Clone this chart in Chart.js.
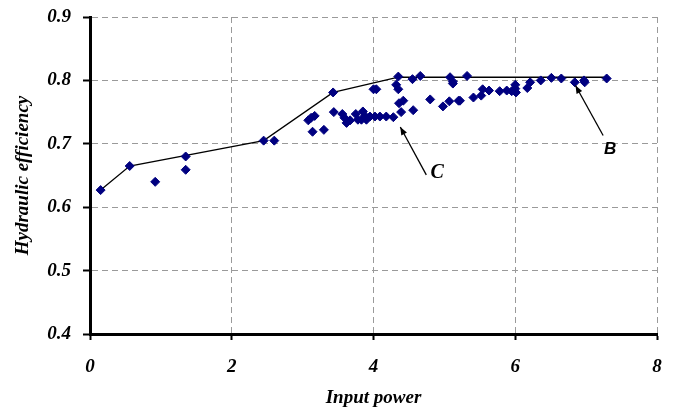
<!DOCTYPE html>
<html>
<head>
<meta charset="utf-8">
<script src="https://cdn.jsdelivr.net/npm/chart.js@4.4.1/dist/chart.umd.min.js"></script>
<style>
  body { margin: 0; background: #fff; }
  #wrap { width: 676px; height: 409px; position: relative; }
</style>
</head>
<body>
<div id="wrap"><canvas id="chart"></canvas></div>
<script>
// measured points (input power, hydraulic efficiency)
const powerPts = [0.15, 0.56, 0.92, 1.35, 1.35, 2.45, 2.60, 3.08, 3.12, 3.17, 3.14, 3.30, 3.43, 3.44, 3.56, 3.59, 3.62, 3.67,
  3.75, 3.78, 3.83, 3.85, 3.88, 3.90, 3.95, 4.00, 4.04, 4.02, 4.09, 4.18, 4.28, 4.32, 4.35, 4.35, 4.36, 4.42, 4.39, 4.56,
  4.55, 4.66, 4.80, 4.98, 5.07, 5.08, 5.12, 5.12, 5.20, 5.22, 5.32, 5.41, 5.52, 5.54, 5.63, 5.78, 5.88, 5.95, 6.00, 6.00,
  6.01, 6.17, 6.21, 6.36, 6.51, 6.65, 6.84, 6.97, 6.98, 7.29];
const effPts = [0.627, 0.665, 0.640, 0.680, 0.659, 0.705, 0.705, 0.737, 0.741, 0.744, 0.719, 0.722, 0.781, 0.750, 0.747, 0.741, 0.733, 0.737,
  0.747, 0.738, 0.738, 0.751, 0.744, 0.738, 0.743, 0.786, 0.786, 0.743, 0.743, 0.743, 0.742, 0.793, 0.786, 0.806, 0.764, 0.768, 0.750, 0.753,
  0.802, 0.807, 0.770, 0.759, 0.767, 0.805, 0.798, 0.795, 0.768, 0.768, 0.807, 0.773, 0.776, 0.786, 0.784, 0.783, 0.784, 0.783, 0.793, 0.787,
  0.781, 0.788, 0.797, 0.800, 0.804, 0.803, 0.797, 0.800, 0.797, 0.803];

// envelope curve B
const envPower = [0.15, 0.56, 2.45, 3.43, 4.35, 7.29];
const envEff = [0.627, 0.665, 0.705, 0.781, 0.805, 0.805];

const xTicks = [0, 2, 4, 6, 8];
const yTicks = [0.4, 0.5, 0.6, 0.7, 0.8, 0.9];

// annotation labels with arrows (data coords)
const notes = [
  { text: 'B', font: 'italic bold 17px "Liberation Sans"', at: [7.34, 0.691], from: [7.24, 0.713], to: [6.85, 0.792] },
  { text: 'C', font: 'italic bold 20px "Liberation Serif"', at: [4.90, 0.654], from: [4.745, 0.651], to: [4.378, 0.7265] }
];

const serif = '"Liberation Serif", "Times New Roman", serif';

const notePlugin = {
  id: 'notes',
  afterDatasetsDraw(chart) {
    const { ctx, scales: { x, y } } = chart;
    ctx.save();
    notes.forEach(n => {
      const x1 = x.getPixelForValue(n.from[0]), y1 = y.getPixelForValue(n.from[1]);
      const x2 = x.getPixelForValue(n.to[0]), y2 = y.getPixelForValue(n.to[1]);
      ctx.strokeStyle = '#000';
      ctx.fillStyle = '#000';
      ctx.lineWidth = 1.3;
      ctx.beginPath();
      ctx.moveTo(x1, y1);
      ctx.lineTo(x2, y2);
      ctx.stroke();
      const a = Math.atan2(y2 - y1, x2 - x1);
      const L = 8, W = 3.2;
      ctx.beginPath();
      ctx.moveTo(x2, y2);
      ctx.lineTo(x2 - L * Math.cos(a) + W * Math.sin(a), y2 - L * Math.sin(a) - W * Math.cos(a));
      ctx.lineTo(x2 - L * Math.cos(a) - W * Math.sin(a), y2 - L * Math.sin(a) + W * Math.cos(a));
      ctx.closePath();
      ctx.fill();
      ctx.font = n.font;
      ctx.textAlign = 'center';
      ctx.textBaseline = 'middle';
      ctx.fillText(n.text, x.getPixelForValue(n.at[0]), y.getPixelForValue(n.at[1]));
    });
    ctx.restore();
  }
};

new Chart(document.getElementById('chart'), {
  type: 'scatter',
  data: {
    datasets: [
      {
        label: 'Measured',
        data: powerPts.map((p, i) => ({ x: p, y: effPts[i] })),
        pointStyle: 'rectRot',
        pointRadius: 4.5,
        backgroundColor: '#000080',
        borderColor: '#000080',
        borderWidth: 1
      },
      {
        label: 'B',
        data: envPower.map((p, i) => ({ x: p, y: envEff[i] })),
        showLine: true,
        pointRadius: 0,
        borderColor: '#000',
        borderWidth: 1.3
      }
    ]
  },
  options: {
    responsive: true,
    maintainAspectRatio: false,
    animation: false,
    layout: { padding: { left: 0, right: 19, top: 17, bottom: 0 } },
    plugins: { legend: { display: false }, tooltip: { enabled: false } },
    scales: {
      x: {
        type: 'linear',
        min: 0, max: 8,
        afterBuildTicks: s => { s.ticks = xTicks.map(v => ({ value: v })); },
        afterFit: s => { s.height = 75; s.paddingLeft = 0; s.paddingRight = 0; },
        ticks: { font: { family: serif, size: 19, style: 'italic', weight: 'bold' }, color: '#000', padding: 16, maxRotation: 0 },
        grid: { color: '#9a9a9a', tickColor: '#000', tickWidth: 2, tickLength: 6, lineWidth: 1 },
        border: { color: '#000', width: 3, dash: [6, 4] },
        title: { display: true, text: 'Input power', font: { family: serif, size: 19, style: 'italic', weight: 'bold' }, color: '#000', padding: { top: 0, bottom: 0 } }
      },
      y: {
        min: 0.4, max: 0.9,
        afterBuildTicks: s => { s.ticks = yTicks.map(v => ({ value: v })); },
        afterFit: s => { s.width = 90; s.paddingTop = 0; s.paddingBottom = 0; },
        ticks: { font: { family: serif, size: 19, style: 'italic', weight: 'bold' }, color: '#000', padding: 12, callback: v => v.toFixed(1) },
        grid: { color: '#9a9a9a', tickColor: '#000', tickWidth: 2, tickLength: 7, lineWidth: 1 },
        border: { color: '#000', width: 3, dash: [6, 4] },
        title: { display: true, text: 'Hydraulic efficiency', font: { family: serif, size: 19, style: 'italic', weight: 'bold' }, color: '#000', padding: { top: 12, bottom: 0 } }
      }
    }
  },
  plugins: [notePlugin]
});
</script>
</body>
</html>
